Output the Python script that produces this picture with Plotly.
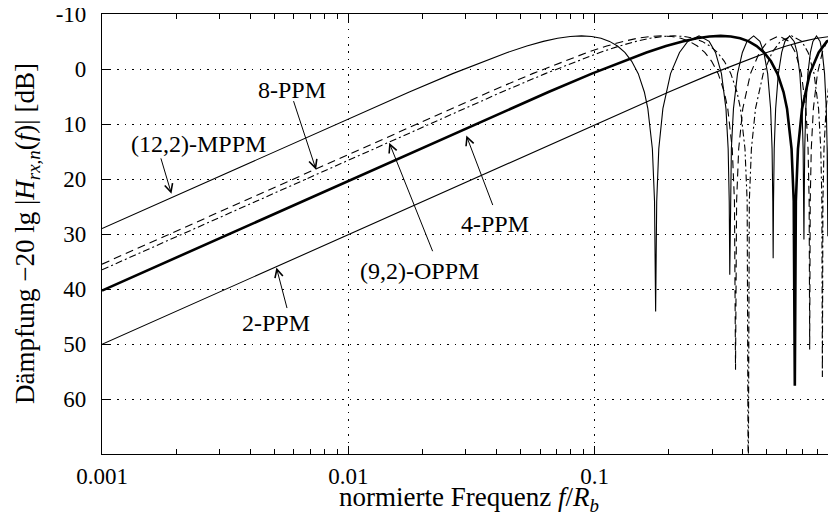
import plotly.graph_objects as go

# ---------------- data ----------------
f_2ppm = [0.001, 0.1, 0.2, 0.3, 0.4, 0.5, 0.6, 0.7, 0.8, 0.9, 1.0]
a_2ppm = [50.06, 10.09, 4.18, 0.84, -1.40, -3.01, -4.18, -5.02, -5.59, -5.91, -6.02]

f_4ppm = [0.001, 0.03247, 0.06494, 0.09740, 0.1299, 0.1623, 0.1948, 0.2273, 0.2597, 0.2922,
          0.3247, 0.3571, 0.3896, 0.4221, 0.4545, 0.4870, 0.5195, 0.5519, 0.5844, 0.6039,
          0.6299, 0.6429, 0.6494, 0.6558, 0.6688, 0.6948, 0.7468, 0.8117, 0.8766, 0.9740, 1.039]
a_4ppm = [40.29, 10.09, 4.18, 0.84, -1.40, -3.01, -4.18, -5.02, -5.59, -5.91,
          -6.02, -5.91, -5.59, -5.02, -4.18, -3.01, -1.40, 0.84, 4.18, 7.21,
          14.51, 24.04, 57.6, 24.04, 14.51, 7.21, 0.84, -3.01, -5.02, -6.02, -5.59]

f_8ppm = [0.001, 0.01866, 0.03731, 0.05597, 0.07463, 0.09328, 0.1119, 0.1306, 0.1493, 0.1679,
          0.1866, 0.2052, 0.2239, 0.2425, 0.2612, 0.2799, 0.2985, 0.3172, 0.3358, 0.3470,
          0.3619, 0.3694, 0.3731,
          0.3769, 0.3843, 0.3993, 0.4291, 0.4664, 0.5037, 0.5597, 0.6157, 0.6530, 0.6903,
          0.7201, 0.7351, 0.7425, 0.7463,
          0.7500, 0.7575, 0.7724, 0.8022, 0.8396, 0.8769, 0.9328, 0.9888, 1.0261]
a_8ppm = [35.48, 10.09, 4.18, 0.84, -1.40, -3.01, -4.18, -5.02, -5.59, -5.91,
          -6.02, -5.91, -5.59, -5.02, -4.18, -3.01, -1.40, 0.84, 4.18, 7.21,
          14.51, 24.04, 54.7,
          24.04, 14.51, 7.21, 0.84, -3.01, -5.02, -6.02, -5.02, -3.01, 0.84,
          7.21, 14.51, 24.04, 51.0,
          24.04, 14.51, 7.21, 0.84, -3.01, -5.02, -6.02, -5.02, -3.01]

f_oppm = [0.001, 0.02101, 0.04202, 0.06303, 0.08403, 0.1050, 0.1261, 0.1471, 0.1681, 0.1891,
          0.2101, 0.2311, 0.2521, 0.2731, 0.2941, 0.3151, 0.3361, 0.3571, 0.3782, 0.3908,
          0.4076, 0.4160, 0.4202,
          0.4244, 0.4328, 0.4496, 0.4832, 0.5252, 0.5672, 0.6303, 0.6933, 0.7353, 0.7773,
          0.8109, 0.8277, 0.8361, 0.8403,
          0.8445, 0.8529, 0.8697, 0.9034, 0.9454, 0.9874, 1.0504]
a_oppm = [36.51, 10.09, 4.18, 0.84, -1.40, -3.01, -4.18, -5.02, -5.59, -5.91,
          -6.02, -5.91, -5.59, -5.02, -4.18, -3.01, -1.40, 0.84, 4.18, 7.21,
          14.51, 24.04, 80.0,
          24.04, 14.51, 7.21, 0.84, -3.01, -5.02, -6.02, -5.02, -3.01, 0.84,
          7.21, 14.51, 24.04, 56.0,
          24.04, 14.51, 7.21, 0.84, -3.01, -5.02, -6.02]

f_mppm = [0.001, 0.00884, 0.01768, 0.02652, 0.03536, 0.04420, 0.05304, 0.06188, 0.07072, 0.07956,
          0.08840, 0.09724, 0.1061, 0.1149, 0.1238, 0.1326, 0.1414, 0.1503, 0.1591, 0.1644,
          0.1715, 0.1750, 0.1768,
          0.1786, 0.1821, 0.1892, 0.2033, 0.2210, 0.2387, 0.2652, 0.2917, 0.3094, 0.3271,
          0.3412, 0.3483, 0.3518, 0.3536,
          0.3554, 0.3589, 0.3660, 0.3801, 0.3978, 0.4155, 0.4420, 0.4685, 0.4862, 0.5039,
          0.5180, 0.5251, 0.5286, 0.5304,
          0.5322, 0.5357, 0.5428, 0.5569, 0.5746, 0.5923, 0.6188, 0.6453, 0.6630, 0.6807,
          0.6948, 0.7019, 0.7054, 0.7072,
          0.7090, 0.7125, 0.7196, 0.7337, 0.7514, 0.7691, 0.7956, 0.8221, 0.8398, 0.8575,
          0.8716, 0.8787, 0.8822, 0.8840,
          0.8858, 0.8893, 0.8964, 0.9105, 0.9282, 0.9459, 0.9724, 0.9989]
a_mppm = [29.00, 10.09, 4.18, 0.84, -1.40, -3.01, -4.18, -5.02, -5.59, -5.91,
          -6.02, -5.91, -5.59, -5.02, -4.18, -3.01, -1.40, 0.84, 4.18, 7.21,
          14.51, 24.04, 44.1,
          24.04, 14.51, 7.21, 0.84, -3.01, -5.02, -6.02, -5.02, -3.01, 0.84,
          7.21, 14.51, 24.04, 37.4,
          24.04, 14.51, 7.21, 0.84, -3.01, -5.02, -6.02, -5.02, -3.01, 0.84,
          7.21, 14.51, 24.04, 34.4,
          24.04, 14.51, 7.21, 0.84, -3.01, -5.02, -6.02, -5.02, -3.01, 0.84,
          7.21, 14.51, 24.04, 31.0,
          24.04, 14.51, 7.21, 0.84, -3.01, -5.02, -6.02, -5.02, -3.01, 0.84,
          7.21, 14.51, 24.04, 30.4,
          24.04, 14.51, 7.21, 0.84, -3.01, -5.02, -6.02, -5.02]

x_tickvals = [0.001, 0.01, 0.1]
x_ticktext = ["0.001", "0.01", "0.1"]
x_minor = [0.002, 0.003, 0.004, 0.005, 0.006, 0.007, 0.008, 0.009,
           0.02, 0.03, 0.04, 0.05, 0.06, 0.07, 0.08, 0.09,
           0.2, 0.3, 0.4, 0.5, 0.6, 0.7, 0.8, 0.9]
y_tickvals = [-10, 0, 10, 20, 30, 40, 50, 60]
y_ticktext = ["-10", "0", "10", "20", "30", "40", "50", "60"]

# labels: (text, x_log10, y_dB)
labels = [
    ("(12,2)-MPPM", -2.609, 13.6),
    ("8-PPM", -2.227, 3.8),
    ("(9,2)-OPPM", -1.712, 36.7),
    ("4-PPM", -1.404, 28.1),
    ("2-PPM", -2.292, 46.1),
]
# arrows: (tip x_log10, tip y_dB, tail dx px, tail dy px)
arrows = [
    (-2.718, 22.7, -11, -37),
    (-2.131, 18.3, -23, -70),
    (-1.834, 13.4, 44, 110),
    (-1.521, 12.1, 27, 71),
    (-2.292, 36.1, 11, 42),
]

x_title = "normierte Frequenz <i>f</i>/<i>R</i><sub><i>b</i></sub>"
y_title = "Dämpfung −20 lg |<i>H</i><sub><i>rx,n</i></sub>(<i>f</i>)| [dB]"

FONT = "Liberation Serif"
PLOT_W = 734.5
fig = go.Figure()

def add(f, a, width, dash):
    fig.add_trace(go.Scatter(x=f, y=a, mode="lines",
                             line=dict(color="black", width=width, dash=dash),
                             showlegend=False, hoverinfo="skip"))

add(f_2ppm, a_2ppm, 1.1, "solid")
add(f_mppm, a_mppm, 1.1, "solid")
add(f_8ppm, a_8ppm, 1.1, "8px,5px")
add(f_oppm, a_oppm, 1.1, "7px,3px,2px,3px")
add(f_4ppm, a_4ppm, 2.6, "solid")

annotations = []
for t, x, y in labels:
    annotations.append(dict(text=t, x=x, y=y, xref="x", yref="y", showarrow=False,
                            font=dict(family=FONT, size=24, color="black")))
for x, y, dx, dy in arrows:
    annotations.append(dict(text="", x=x, y=y, xref="x", yref="y", showarrow=True,
                            ax=dx, ay=dy, arrowhead=5, arrowsize=1.6, arrowwidth=1,
                            arrowcolor="black"))
annotations.append(dict(text=x_title, x=0.5, y=0, xref="paper", yref="paper",
                        xanchor="center", yanchor="middle", yshift=-45, showarrow=False,
                        font=dict(family=FONT, size=27, color="black")))
annotations.append(dict(text=y_title, x=0, y=0.5, xref="paper", yref="paper",
                        xanchor="center", yanchor="middle", xshift=-75, textangle=-90,
                        showarrow=False, font=dict(family=FONT, size=27, color="black")))

shapes = []
for v in y_tickvals:
    shapes.append(dict(type="line", xref="paper", yref="y", x0=1 - 8 / PLOT_W, x1=1, y0=v, y1=v,
                       line=dict(color="black", width=1)))

fig.update_layout(
    width=828, height=510,
    margin=dict(l=93.5, r=0, t=6, b=64),
    paper_bgcolor="white", plot_bgcolor="white",
    font=dict(family=FONT, size=23, color="black"),
    annotations=annotations, shapes=shapes,
    xaxis=dict(type="log", range=[-3, -3 + PLOT_W / 246.5], automargin=False,
               tickvals=x_tickvals, ticktext=x_ticktext, ticklabeloverflow="allow",
               ticks="inside", ticklen=8, tickwidth=1, tickcolor="black",
               showline=True, linecolor="black", linewidth=1.2, mirror="ticks",
               showgrid=True, gridcolor="black", gridwidth=1, griddash="1.5px,6px",
               zeroline=False, ticklabelstandoff=1,
               minor=dict(tickvals=x_minor, ticks="inside", ticklen=5, tickcolor="black",
                          showgrid=False)),
    yaxis=dict(range=[70, -10], tickvals=y_tickvals, ticktext=y_ticktext, automargin=False,
               ticklabeloverflow="allow",
               ticks="inside", ticklen=8, tickwidth=1, tickcolor="black",
               showline=True, linecolor="black", linewidth=1.2, mirror=False,
               showgrid=True, gridcolor="black", gridwidth=1, griddash="1.5px,6px",
               zeroline=False, ticklabelstandoff=10),
)

fig.write_html("out.html", config={"displayModeBar": False})
